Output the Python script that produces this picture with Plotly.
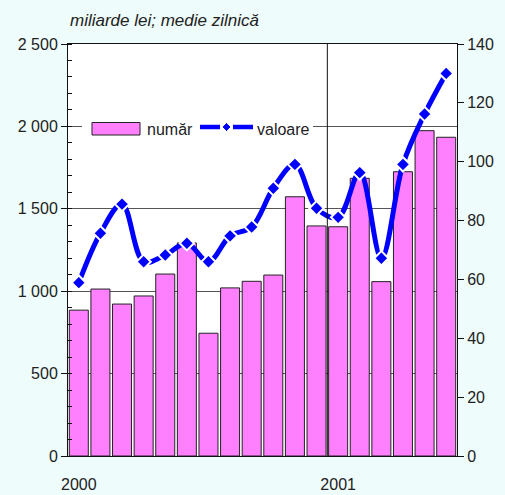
import plotly.graph_objects as go

months = list(range(18))  # Jan 2000 .. Jun 2001
year_ticks = [0, 12]
year_labels = ["2000", "2001"]
numar = [885, 1013, 922, 971, 1104, 1293, 745, 1020, 1060, 1098, 1573, 1396, 1391, 1685, 1058, 1725, 1974, 1934]
valoare = [58.9, 75.7, 85.6, 66.0, 68.3, 72.3, 66.0, 74.8, 77.8, 91.0, 99.1, 84.2, 81.1, 96.3, 67.2, 99.1, 116.2, 130.0]

BG = "#eefcfb"
PINK = "#ff80ff"
BLUE = "#0000ff"
FONT = "Liberation Sans"
TXT = "#222"

fig = go.Figure()
fig.add_trace(go.Bar(x=months, y=numar, name="număr", marker=dict(color=PINK, line=dict(color="#222", width=1)),
                     yaxis="y", showlegend=False))
fig.add_trace(go.Scatter(x=months, y=valoare, name="valoare", yaxis="y2", mode="lines+markers",
                         line=dict(color=BLUE, width=5, shape="spline", smoothing=1.0),
                         marker=dict(symbol="diamond", size=11, color=BLUE, line=dict(color="white", width=2)),
                         showlegend=False))

# plot area geometry in pixels for legend decoration
L, T, W, H = 68, 44, 389, 412
def px(xp):
    return (xp - L) / W
def py(yp):
    return (T + H - yp) / H

shapes = [
    dict(type="line", xref="x", yref="paper", x0=11.5, x1=11.5, y0=0, y1=1, line=dict(color="#111", width=1), layer="above"),
    dict(type="rect", xref="paper", yref="paper", x0=px(82), x1=px(313), y0=py(137), y1=py(118),
         fillcolor="white", line=dict(width=0), layer="above"),
    dict(type="rect", xref="paper", yref="paper", x0=px(92), x1=px(140), y0=py(135), y1=py(122.5),
         fillcolor=PINK, line=dict(color="#222", width=1), layer="above"),
    dict(type="line", xref="paper", yref="paper", x0=px(200), x1=px(220), y0=py(127), y1=py(127),
         line=dict(color=BLUE, width=4.5), layer="above"),
    dict(type="line", xref="paper", yref="paper", x0=px(233), x1=px(253), y0=py(127), y1=py(127),
         line=dict(color=BLUE, width=4.5), layer="above"),
    dict(type="path", xref="paper", yref="paper",
         path=f"M {px(226.5)} {py(122.5)} L {px(231)} {py(127)} L {px(226.5)} {py(131.5)} L {px(222)} {py(127)} Z",
         fillcolor=BLUE, line=dict(color="white", width=1), layer="above"),
]

annotations = [
    dict(text="<i>miliarde lei; medie zilnică</i>", xref="paper", yref="paper", x=0, y=py(20),
         xanchor="left", yanchor="middle", showarrow=False, font=dict(family=FONT, size=17, color=TXT)),
    dict(text="număr", xref="paper", yref="paper", x=px(145), y=py(129), xanchor="left", yanchor="middle",
         showarrow=False, font=dict(family=FONT, size=16, color=TXT)),
    dict(text="valoare", xref="paper", yref="paper", x=px(255), y=py(129), xanchor="left", yanchor="middle",
         showarrow=False, font=dict(family=FONT, size=16, color=TXT)),
]

fig.update_layout(
    width=505, height=495,
    margin=dict(l=L, r=505 - L - W, t=T, b=495 - T - H, autoexpand=False),
    paper_bgcolor=BG, plot_bgcolor="white",
    separators=", ",
    bargap=0.12,
    font=dict(family=FONT, size=16, color=TXT),
    shapes=shapes, annotations=annotations,
    xaxis=dict(range=[-0.5, 17.5], tickvals=year_ticks, ticktext=year_labels, ticks="outside", ticklen=14,
               tickcolor="rgba(0,0,0,0)", showline=True, linecolor="#111", linewidth=1, mirror=True,
               showgrid=False, zeroline=False, tickfont=dict(size=16), automargin=False),
    yaxis=dict(range=[0, 2500], dtick=500, tickformat=",d", ticks="outside", ticklen=6, tickcolor="#111",
               showline=True, linecolor="#111", linewidth=1, showgrid=True, gridcolor="#555", gridwidth=1,
               zeroline=False, minor=dict(dtick=100, ticks="inside", ticklen=4, tickcolor="#111", showgrid=False),
               tickfont=dict(size=16), automargin=False),
    yaxis2=dict(range=[0, 140], dtick=20, overlaying="y", side="right", ticks="outside", ticklen=6,
                tickcolor="#111", showline=True, linecolor="#111", linewidth=1, showgrid=False, zeroline=False,
                tickfont=dict(size=16), automargin=False),
)

fig.write_html("out.html", config={"displayModeBar": False},
               post_script="document.body.style.margin='0';document.body.style.overflow='hidden';")
